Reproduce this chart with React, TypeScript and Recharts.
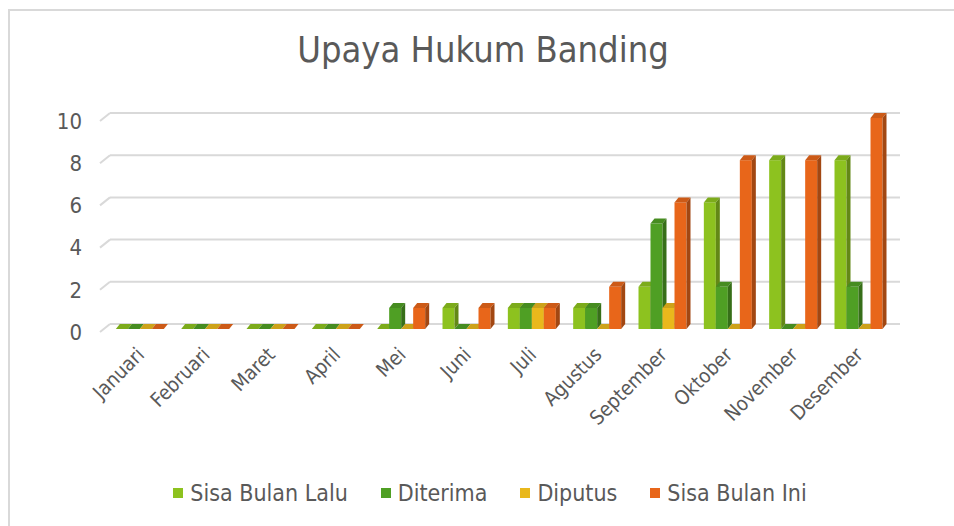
import { BarChart, Bar, XAxis, YAxis, CartesianGrid, Legend } from 'recharts';

const months = [
  'Januari', 'Februari', 'Maret', 'April', 'Mei', 'Juni',
  'Juli', 'Agustus', 'September', 'Oktober', 'November', 'Desember',
];
const sisaBulanLalu = [0, 0, 0, 0, 0, 1, 1, 1, 2, 6, 8, 8];
const diterima = [0, 0, 0, 0, 1, 0, 1, 1, 5, 2, 0, 2];
const diputus = [0, 0, 0, 0, 0, 0, 1, 0, 1, 0, 0, 0];
const sisaBulanIni = [0, 0, 0, 0, 1, 1, 1, 2, 6, 8, 8, 10];
const yTicks = [0, 2, 4, 6, 8, 10];

const SERIES = [
  { key: 'lalu', name: 'Sisa Bulan Lalu', color: '#8DC21F' },
  { key: 'diterima', name: 'Diterima', color: '#4F9F24' },
  { key: 'diputus', name: 'Diputus', color: '#E9B81C' },
  { key: 'ini', name: 'Sisa Bulan Ini', color: '#E8661A' },
];

const data = months.map((m, i) => ({
  month: m,
  lalu: sisaBulanLalu[i],
  diterima: diterima[i],
  diputus: diputus[i],
  ini: sisaBulanIni[i],
}));

const FONT = '"DejaVu Sans Condensed", "DejaVu Sans", sans-serif';
const TEXT = '#595959';
const GRID = '#D9D9D9';

function shade(hex: string, f: number) {
  const n = parseInt(hex.slice(1), 16);
  const r = Math.round(((n >> 16) & 255) * f);
  const g = Math.round(((n >> 8) & 255) * f);
  const b = Math.round((n & 255) * f);
  return `rgb(${r},${g},${b})`;
}

// fake 3D column: front face + top face + right side
function Column3D(props: any) {
  const { x, y, width, height, fill } = props;
  if (x == null || y == null) return null;
  const dx = 4;
  const dy = 5;
  const w = width;
  const h = Math.max(height, 0);
  return (
    <g>
      <rect x={x} y={y + dy} width={w} height={h} fill={fill} />
      <polygon
        points={`${x},${y + dy} ${x + w},${y + dy} ${x + w + dx},${y} ${x + dx},${y}`}
        fill={shade(fill, 0.88)}
      />
      <polygon
        points={`${x + w},${y + dy} ${x + w + dx},${y} ${x + w + dx},${y + h} ${x + w},${y + h + dy}`}
        fill={shade(fill, 0.7)}
      />
    </g>
  );
}

function GridLine(props: any) {
  const { x1, x2, y1 } = props;
  return (
    <g>
      <line x1={x1 - 8} y1={y1 + 8} x2={x1 + 2} y2={y1} stroke={GRID} strokeWidth={2} />
      <line x1={x1 + 2} y1={y1} x2={x2 + 8} y2={y1} stroke={GRID} strokeWidth={2} />
    </g>
  );
}

function MonthTick(props: any) {
  const { x, y, payload } = props;
  return (
    <text
      x={x}
      y={y}
      transform={`rotate(-45 ${x} ${y})`}
      textAnchor="end"
      dominantBaseline="central"
      fill={TEXT}
      fontSize={20}
      fontFamily={FONT}
    >
      {payload.value}
    </text>
  );
}

function LegendRow() {
  return (
    <div
      style={{
        display: 'flex', justifyContent: 'center', gap: 33, paddingLeft: 88,
        fontFamily: FONT, fontSize: 23, color: TEXT,
      }}
    >
      {SERIES.map((s) => (
        <div key={s.key} style={{ display: 'flex', alignItems: 'center', gap: 7 }}>
          <span style={{ width: 10, height: 10, background: s.color, display: 'inline-block' }} />
          <span>{s.name}</span>
        </div>
      ))}
    </div>
  );
}

export default function App() {
  return (
    <div style={{ position: 'absolute', left: 0, top: 0, width: 954, height: 526, background: '#fff' }}>
      <style>{'body{margin:0}'}</style>
      {/* frame */}
      <div
        style={{
          position: 'absolute', left: 8, top: 9, right: 0, bottom: 0,
          borderTop: `2px solid ${GRID}`, borderLeft: `2px solid ${GRID}`,
        }}
      />
      <div
        style={{
          position: 'absolute', left: 0, width: 966, top: 29, textAlign: 'center',
          fontFamily: FONT, fontSize: 36, color: TEXT,
        }}
      >
        Upaya Hukum Banding
      </div>
      <div style={{ position: 'absolute', left: 0, top: 0 }}>
        <BarChart
          width={954}
          height={526}
          data={data}
          margin={{ top: 113, right: 62, left: 0, bottom: 20 }}
          barCategoryGap="12%"
          barGap={0}
        >
          <CartesianGrid vertical={false} horizontal={<GridLine />} />
          <XAxis
            dataKey="month"
            axisLine={false}
            tickLine={false}
            interval={0}
            height={156}
            tick={<MonthTick />}
            tickSize={0}
            tickMargin={27}
          />
          <YAxis
            domain={[0, 10]}
            ticks={yTicks}
            axisLine={false}
            tickLine={false}
            tickSize={0}
            tickMargin={26}
            width={108}
            tick={{ fill: TEXT, fontSize: 22, fontFamily: FONT, dy: 8 }}
          />
          <Legend verticalAlign="bottom" content={<LegendRow />} />
          {SERIES.map((s) => (
            <Bar
              key={s.key}
              dataKey={s.key}
              name={s.name}
              fill={s.color}
              shape={<Column3D />}
              isAnimationActive={false}
            />
          ))}
        </BarChart>
      </div>
    </div>
  );
}
